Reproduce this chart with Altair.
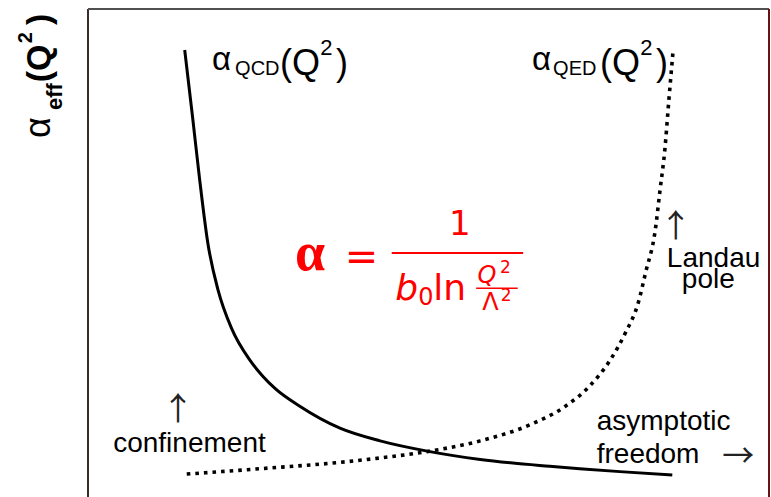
import altair as alt
import pandas as pd

# Running couplings sketched against log Q^2 (arbitrary units)
qcd_logq2 = [1.42, 1.54, 1.64, 1.76, 1.91, 2.11, 2.38, 2.57, 2.75, 3.11, 3.70, 4.29, 5.02, 5.76, 6.78, 7.22, 7.81, 8.58]
qcd_alpha = [9.16, 7.73, 6.50, 5.20, 4.24, 3.45, 2.80, 2.47, 2.22, 1.86, 1.41, 1.15, 0.93, 0.77, 0.63, 0.58, 0.52, 0.45]

qed_logq2 = [1.45, 2.53, 3.70, 4.29, 5.02, 5.76, 6.49, 7.00, 7.37, 7.67, 7.89, 8.08, 8.19, 8.33, 8.40, 8.47, 8.53, 8.59]
qed_alpha = [0.47, 0.58, 0.71, 0.80, 0.94, 1.15, 1.48, 1.85, 2.28, 2.81, 3.36, 3.98, 4.61, 5.47, 6.29, 7.11, 8.14, 9.12]

# Annotation texts, their anchor points (data units) and font sizes
black_text = ["α", "QCD", "(Q", "2", ")",
              "α", "QED", "(Q", "2", ")",
              "Landau", "pole", "confinement", "asymptotic", "freedom"]
black_x = [1.82, 2.16, 2.82, 3.41, 3.64,
           6.52, 6.83, 7.52, 8.11, 8.34,
           8.50, 8.72, 0.37, 7.47, 7.47]
black_y = [8.75, 8.65, 8.65, 9.06, 8.65,
           8.75, 8.65, 8.65, 9.06, 8.65,
           4.71, 4.28, 0.92, 1.37, 0.70]
black_size = [33, 20, 36, 22, 36,
              33, 20, 36, 22, 36,
              28, 28, 28, 28, 28]

arrow_text = ["↑", "↑", "→"]
arrow_x = [8.63, 1.32, 9.55]
arrow_y = [5.32, 1.57, 0.62]

# y-axis title, drawn rotated: α_eff(Q²)
ylab_text = ["α", "eff", "(Q", "2", ")"]
ylab_x = [-0.56, -0.38, -0.56, -0.82, -0.56]
ylab_y = [7.357, 7.93, 8.50, 9.30, 9.67]
ylab_size = [36, 22, 34, 20, 34]
ylab_weight = ["normal", "bold", "bold", "bold", "bold"]

# Red formula: alpha = 1 / (b0 ln Q^2/Lambda^2)
red_up_text = ["=", "1", "0", "ln", "2", "Λ", "2"]
red_up_x = [3.77, 5.46, 4.85, 5.07, 6.05, 5.79, 6.06]
red_up_y = [4.65, 5.37, 3.94, 4.04, 4.59, 3.83, 4.02]
red_up_size = [40, 34, 24, 36, 17, 24, 17]
red_up_align = ["left", "center", "left", "left", "left", "left", "left"]
red_it_text = ["b", "Q"]
red_it_x = [4.51, 5.72]
red_it_y = [4.04, 4.39]
red_it_size = [36, 24]
frac_x = [4.46, 5.70]
frac_x2 = [6.39, 6.31]
frac_y = [5.00, 4.28]
frac_w = [2, 1.5]

X = alt.Scale(domain=[0, 10], nice=False, zero=False)
Y = alt.Scale(domain=[0, 10], nice=False, zero=False)
nx = alt.X("x:Q", scale=X, axis=None)
ny = alt.Y("y:Q", scale=Y, axis=None)

qcd = pd.DataFrame({"x": qcd_logq2, "y": qcd_alpha})
qed = pd.DataFrame({"x": qed_logq2, "y": qed_alpha})

qcd_line = alt.Chart(qcd).mark_line(color="black", strokeWidth=3, interpolate="monotone").encode(x=nx, y=ny)
qed_line = alt.Chart(qed).mark_line(color="black", strokeWidth=3.6, strokeDash=[3.6, 5],
                                    interpolate="monotone").encode(x=nx, y=ny)

# frame: left, top and right edges
frame = pd.DataFrame({"x": [0, 0, 10], "x2": [0, 10, 10], "y": [0, 10, 0], "y2": [10, 10, 10],
                      "c": ["#3d2a2a", "#505050", "#6a1212"]})
frame_rules = alt.Chart(frame).mark_rule(strokeWidth=2).encode(
    x=nx, x2="x2:Q", y=ny, y2="y2:Q", color=alt.Color("c:N", scale=None))

bt = pd.DataFrame({"t": black_text, "x": black_x, "y": black_y, "s": black_size})
black_labels = alt.Chart(bt).mark_text(align="left", baseline="alphabetic", font="Liberation Sans",
                                       color="black").encode(
    x=nx, y=ny, text="t:N", size=alt.Size("s:Q", scale=None))

ar = pd.DataFrame({"t": arrow_text, "x": arrow_x, "y": arrow_y})
arrows = alt.Chart(ar).mark_text(align="center", baseline="alphabetic", font="Noto Sans CJK JP",
                                 fontSize=32, color="#222222").encode(x=nx, y=ny, text="t:N")

yl = pd.DataFrame({"t": ylab_text, "x": ylab_x, "y": ylab_y, "s": ylab_size, "w": ylab_weight})
ylab_layers = []
for w in ["normal", "bold"]:
    ylab_layers.append(
        alt.Chart(yl[yl.w == w]).mark_text(align="left", baseline="alphabetic", angle=270,
                                           font="Liberation Sans", fontWeight=w, color="black").encode(
            x=nx, y=ny, text="t:N", size=alt.Size("s:Q", scale=None)))

ru = pd.DataFrame({"t": red_up_text, "x": red_up_x, "y": red_up_y, "s": red_up_size, "a": red_up_align})
red_layers = []
for a in ["left", "center"]:
    red_layers.append(
        alt.Chart(ru[ru.a == a]).mark_text(align=a, baseline="alphabetic", font="DejaVu Sans",
                                           color="#ff0000").encode(
            x=nx, y=ny, text="t:N", size=alt.Size("s:Q", scale=None)))
ri = pd.DataFrame({"t": red_it_text, "x": red_it_x, "y": red_it_y, "s": red_it_size})
red_layers.append(
    alt.Chart(ri).mark_text(align="left", baseline="alphabetic", font="DejaVu Sans", fontStyle="italic",
                            color="#ff0000").encode(
        x=nx, y=ny, text="t:N", size=alt.Size("s:Q", scale=None)))
alpha_big = alt.Chart(pd.DataFrame({"t": ["α"], "x": [3.04], "y": [4.65]})).mark_text(
    align="left", baseline="alphabetic", font="Liberation Serif", fontWeight="bold",
    fontSize=54, color="#ff0000").encode(x=nx, y=ny, text="t:N")
fr = pd.DataFrame({"x": frac_x, "x2": frac_x2, "y": frac_y, "w": frac_w})
frac_rules = alt.Chart(fr).mark_rule(color="#ff0000").encode(
    x=nx, x2="x2:Q", y=ny, strokeWidth=alt.StrokeWidth("w:Q", scale=None))

chart = alt.layer(
    frame_rules, qcd_line, qed_line, black_labels, arrows, *ylab_layers, *red_layers, alpha_big, frac_rules
).properties(
    width=681, height=488,
    autosize=alt.AutoSizeParams(type="none"),
    padding={"left": 88, "top": 9, "right": 2, "bottom": 0},
    background="white",
).configure_view(stroke=None)

chart.save("out.html", embed_options={"renderer": "svg", "actions": False})
